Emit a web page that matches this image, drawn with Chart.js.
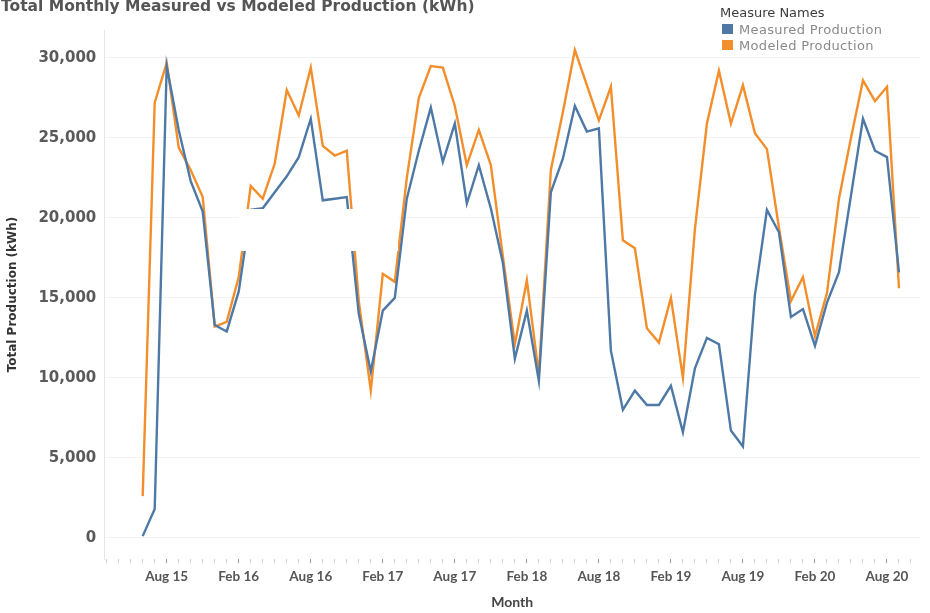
<!DOCTYPE html>
<html>
<head>
<meta charset="utf-8">
<script src="https://cdn.jsdelivr.net/npm/chart.js@4.4.1/dist/chart.umd.min.js"></script>
<style>
  html, body { margin: 0; padding: 0; background: #fff; }
  #wrap { position: relative; width: 930px; height: 613px; overflow: hidden; }
  #title {
    position: absolute; left: 1px; top: -3px; line-height: 16px;
    font: bold 15.5px "DejaVu Sans", sans-serif; color: #555; white-space: nowrap;
  }
  #legend {
    position: absolute; left: 720px; top: 4px;
    font: 13px "DejaVu Sans", sans-serif; color: #8a8a8a;
  }
  #legend .head { color: #3c3c3c; height: 17px; line-height: 17px; }
  #legend .item { display: flex; align-items: center; height: 16px; letter-spacing: 0.35px; }
  #legend .sw { width: 11px; height: 10px; margin: 0 6px 0 2px; }
</style>
</head>
<body>
<div id="wrap">
  <canvas id="chart"></canvas>
  <div id="title">Total Monthly Measured vs Modeled Production (kWh)</div>
  <div id="legend"></div>
</div>
<script>
// --- DATOS ---
const months = [
  "Jun 15", "Jul 15", "Aug 15", "Sep 15", "Oct 15", "Nov 15", "Dec 15",
  "Jan 16", "Feb 16", "Mar 16", "Apr 16", "May 16", "Jun 16", "Jul 16", "Aug 16", "Sep 16", "Oct 16", "Nov 16", "Dec 16",
  "Jan 17", "Feb 17", "Mar 17", "Apr 17", "May 17", "Jun 17", "Jul 17", "Aug 17", "Sep 17", "Oct 17", "Nov 17", "Dec 17",
  "Jan 18", "Feb 18", "Mar 18", "Apr 18", "May 18", "Jun 18", "Jul 18", "Aug 18", "Sep 18", "Oct 18", "Nov 18", "Dec 18",
  "Jan 19", "Feb 19", "Mar 19", "Apr 19", "May 19", "Jun 19", "Jul 19", "Aug 19", "Sep 19", "Oct 19", "Nov 19", "Dec 19",
  "Jan 20", "Feb 20", "Mar 20", "Apr 20", "May 20", "Jun 20", "Jul 20", "Aug 20", "Sep 20",
];

const measured = [
  100, 1800, 29500, 25500, 22300, 20400, 13300,
  12900, 15400, 20500, 20600, 21600, 22600, 23800, 26200, 21100, 21200, 21300, 14000,
  10400, 14200, 15000, 21200, 24200, 26900, 23500, 25900, 20900, 23300, 20600, 17200,
  11200, 14200, 9800, 21600, 23700, 27000, 25400, 25600, 11700, 8000, 9200, 8300,
  8300, 9500, 6600, 10600, 12500, 12100, 6700, 5700, 15200, 20500, 19100, 13800,
  14300, 12000, 14700, 16600, 21400, 26200, 24200, 23800, 16600,
];

const modeled = [
  2600, 27200, 29700, 24400, 23000, 21300, 13200,
  13500, 16300, 22000, 21200, 23400, 28000, 26400, 29400, 24500, 23900, 24200, 14800,
  9200, 16500, 16000, 22500, 27500, 29500, 29400, 27000, 23300, 25500, 23300, 17600,
  12100, 16100, 10200, 23000, 26600, 30500, 28300, 26100, 28200, 18600, 18100, 13100,
  12200, 15000, 10000, 19300, 25900, 29200, 25900, 28300, 25300, 24300, 19400, 14800,
  16300, 12600, 15300, 21200, 25000, 28600, 27300, 28200, 15600,
];

const tickMonths = ["Aug 15", "Feb 16", "Aug 16", "Feb 17", "Aug 17", "Feb 18", "Aug 18", "Feb 19", "Aug 19", "Feb 20", "Aug 20"];
const yTicks = [0, 5000, 10000, 15000, 20000, 25000, 30000];

const series = [
  { label: "Measured Production", values: measured, color: "#4e79a7" },
  { label: "Modeled Production", values: modeled, color: "#f28e2b" },
];

// --- UTIL ---
const isMajor = (v) => tickMonths.includes(months[v]);

// tapa blanca que aparece en la imagen original
const maskPlugin = {
  id: "mask",
  afterDatasetsDraw(chart) {
    const ctx = chart.ctx;
    ctx.save();
    ctx.fillStyle = "#fff";
    ctx.fillRect(238, 209, 160, 42);
    ctx.restore();
  },
};

// --- GRÁFICO ---
const chart = new Chart(document.getElementById("chart"), {
  type: "line",
  data: {
    datasets: series.map((s) => ({
      label: s.label,
      data: s.values.map((v, i) => ({ x: i, y: v })),
      borderColor: s.color,
      backgroundColor: s.color,
      borderWidth: 2.4,
      pointRadius: 0,
      tension: 0,
    })),
  },
  options: {
    responsive: true,
    maintainAspectRatio: false,
    animation: false,
    layout: { padding: { top: 30, right: 10, left: 6, bottom: 0 } },
    plugins: { legend: { display: false }, tooltip: { enabled: false } },
    scales: {
      x: {
        type: "linear",
        min: -3.2,
        max: 64.75,
        afterBuildTicks: (scale) => {
          const t = [];
          for (let i = -3; i <= 64; i++) t.push({ value: i });
          scale.ticks = t;
        },
        ticks: {
          autoSkip: false,
          maxRotation: 0,
          padding: 6,
          color: "#555",
          font: { family: "Lato", size: 13.5, weight: "bold" },
          callback: (v) => (isMajor(v) ? months[v] : ""),
        },
        grid: {
          drawOnChartArea: false,
          tickLength: 4,
          color: (c) => (isMajor(c.tick && c.tick.value) ? "#999" : "#d0d0d0"),
        },
        border: { display: false },
        title: { display: true, text: "Month", color: "#444", font: { family: "Lato", size: 14, weight: "bold" }, padding: { top: 3, bottom: 2 } },
      },
      y: {
        min: -1330,
        max: 31750,
        afterBuildTicks: (scale) => {
          scale.ticks = yTicks.map((v) => ({ value: v }));
        },
        ticks: {
          padding: 8,
          color: "#5a5a5a",
          font: { family: "DejaVu Sans", size: 15, weight: "bold" },
          callback: (v) => v.toLocaleString("en-US"),
        },
        grid: { color: "#f3f3f3", drawTicks: false },
        border: { color: "#e6e6e6" },
        title: {
          display: true,
          text: "Total Production (kWh)",
          color: "#333",
          font: { family: "DejaVu Sans", size: 12, weight: "bold" },
          padding: { top: 0, bottom: 10 },
        },
      },
    },
  },
  plugins: [maskPlugin],
});

// --- LEYENDA ---
const legend = document.getElementById("legend");
legend.innerHTML =
  '<div class="head">Measure Names</div>' +
  chart.data.datasets
    .map((d) => `<div class="item"><span class="sw" style="background:${d.borderColor}"></span>${d.label}</div>`)
    .join("");
</script>
</body>
</html>
